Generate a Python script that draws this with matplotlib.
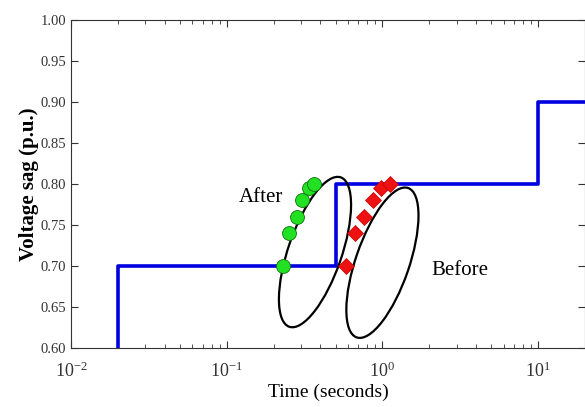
import numpy as np
import matplotlib
matplotlib.use('Agg')
import matplotlib.pyplot as plt
from matplotlib.patches import Ellipse
from matplotlib import transforms

plt.rcParams['font.family'] = ['Liberation Serif', 'DejaVu Serif']
plt.rcParams['mathtext.fontset'] = 'custom'
plt.rcParams['mathtext.rm'] = 'Liberation Serif'
plt.rcParams['mathtext.it'] = 'Liberation Serif:italic'
plt.rcParams['mathtext.bf'] = 'Liberation Serif:bold'

# 電圧サグの階段曲線
step_t = [0.02, 0.02, 0.5, 10, 20]
step_v = [0.60, 0.70, 0.80, 0.90, 0.90]

# 改善後 (緑)
after_t = [0.229, 0.25, 0.281, 0.303, 0.336, 0.366]
after_v = [0.70, 0.74, 0.76, 0.78, 0.795, 0.80]

# 改善前 (赤)
before_t = [0.58, 0.67, 0.767, 0.875, 0.985, 1.125]
before_v = [0.70, 0.74, 0.76, 0.78, 0.795, 0.80]

yticks = [0.60, 0.65, 0.70, 0.75, 0.80, 0.85, 0.90, 0.95, 1.00]

fig = plt.figure(figsize=(5.85, 4.07), dpi=100)
ax = fig.add_axes([71 / 585, 1 - 348 / 407, 1 - 71 / 585, (348 - 20) / 407])

ax.step(step_t, step_v, where='post', color='#0000e0', lw=2.6, zorder=2)

ax.plot(after_t, after_v, 'o', ms=10, mfc='#22e022', mec='#107010',
        mew=0.6, zorder=4)
ax.plot(before_t, before_v, 'D', ms=8.5, mfc='#ee1111', mec='#cc0000',
        mew=0.5, zorder=4)

# 楕円 (ピクセル単位で描く)
for cx, cy in [(0.369, 0.717), (1.0, 0.704)]:
    tr = fig.dpi_scale_trans + transforms.ScaledTranslation(cx, cy, ax.transData)
    e = Ellipse((0, 0), 1.58, 0.535, angle=71, transform=tr,
                fill=False, ec='black', lw=1.6, zorder=3)
    ax.add_patch(e)

ax.text(0.232, 0.783, 'After', fontsize=15, ha='right', va='center')
ax.text(2.06, 0.695, 'Before', fontsize=15, ha='left', va='center')

ax.set_xscale('log')
ax.set_xlim(0.01, 20)
ax.set_ylim(0.6, 1.0)
ax.set_yticks(yticks)
ax.set_yticklabels(['%.2f' % v for v in yticks])
ax.set_xticks([0.01, 0.1, 1, 10])
ax.set_xticklabels([r'$10^{-2}$', r'$10^{-1}$', r'$10^{0}$', r'$10^{1}$'])

ax.tick_params(which='both', direction='in', top=True, right=True,
               labelsize=10.5, colors='#333333')
ax.tick_params(axis='x', labelsize=13, pad=10)
ax.tick_params(which='major', length=5)
ax.tick_params(which='minor', length=3)
for s in ax.spines.values():
    s.set_color('#333333')
    s.set_linewidth(0.8)

ax.set_xlabel('Time (seconds)', fontsize=14, labelpad=2)
ax.set_ylabel('Voltage sag (p.u.)', fontsize=15, fontweight='bold', labelpad=1)

fig.savefig('out.png', dpi=100)
